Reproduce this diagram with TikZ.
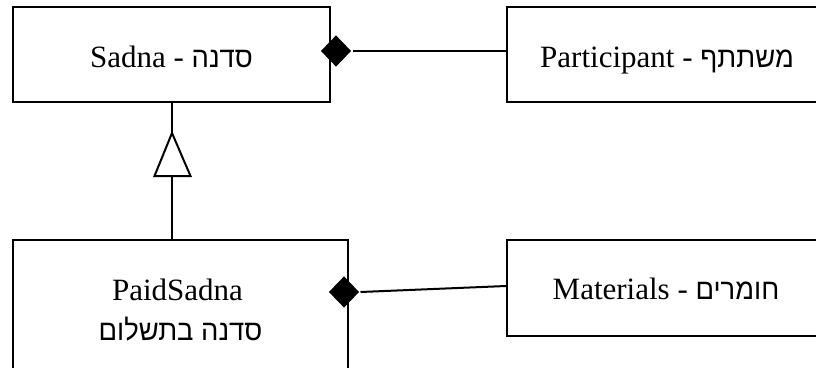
\documentclass[tikz,border=0pt]{standalone}
\usepackage{fontspec}
\setmainfont{Liberation Serif}
\newfontfamily\heb[Script=Hebrew,Scale=0.93,FakeStretch=0.95]{Liberation Sans}
\TeXXeTstate=1
\usetikzlibrary{shapes.geometric}
\begin{document}
\begin{tikzpicture}[x=1pt,y=-1pt,
  line width=2pt,
  classbox/.style={draw=black, rectangle, inner sep=0pt},
  lbl/.style={anchor=base, inner sep=0pt, font=\fontsize{31}{37}\selectfont},
  comp/.style={diamond, fill=black, draw=none, inner sep=0pt, minimum width=31pt, minimum height=32pt}]
\useasboundingbox (0,0) rectangle (816,367);
\clip (0,0) rectangle (816,367);
\fill[white] (0,0) rectangle (816,367);
% boxes
\node[classbox, minimum width=317pt, minimum height=95pt] (sadna) at (171.5,54.5) {};
\node[classbox, minimum width=320pt, minimum height=95pt] (part) at (667,54.5) {};
\node[classbox, minimum width=335pt, minimum height=160pt] (paid) at (180.5,320) {};
\node[classbox, minimum width=320pt, minimum height=96pt] (mat) at (667,288) {};
% texts
\node[lbl] (tsadna) at (171.5,67) {Sadna - {\heb\beginR סדנה\endR}};
\node[lbl] (tpart) at (667,67) {Participant - {\heb\beginR משתתף\endR}};
\node[lbl] (tmat) at (666,299) {Materials - {\heb\beginR חומרים\endR}};
\node[lbl] (tpaid1) at (177.5,300) {PaidSadna};
\node[lbl] (tpaid2) at (180.5,340) {\heb\beginR סדנה בתשלום\endR};
% composition diamonds
\node[comp] (dia1) at (336,51) {};
\node[comp] (dia2) at (344,292) {};
\draw (dia1.east) -- (part.west |- dia1.east);
\draw (dia2.east) -- ([yshift=2pt]mat.west);
% generalization
\coordinate (apex) at (172,133);
\coordinate (baseL) at (154.5,176);
\coordinate (baseR) at (190.5,176);
\coordinate (baseM) at (171.5,176);
\draw (sadna.south -| apex) -- (apex);
\draw[fill=white, line join=miter] (apex) -- (baseR) -- (baseL) -- cycle;
\draw (baseM) -- (baseM |- paid.north);
\end{tikzpicture}
\end{document}
